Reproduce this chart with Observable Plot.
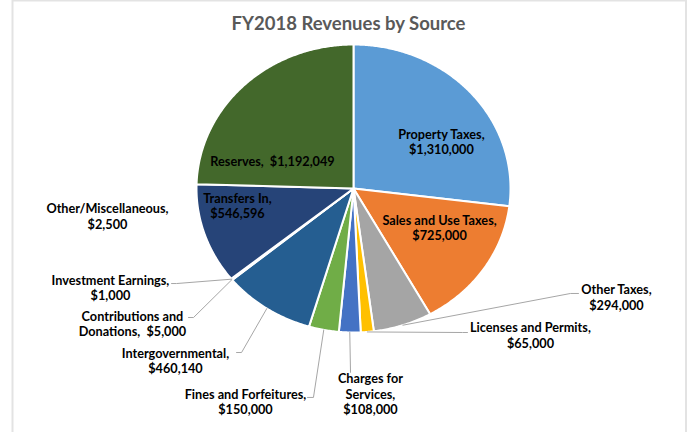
<!DOCTYPE html>
<html>
<head>
<meta charset="utf-8">
<script src="https://cdn.jsdelivr.net/npm/d3@7"></script>
<script src="https://cdn.jsdelivr.net/npm/@observablehq/plot@0.6"></script>
<style>
  html, body { margin: 0; padding: 0; background: #fff; }
  #chart { width: 692px; height: 432px; }
</style>
</head>
<body>
<div id="chart"></div>
<script>
// ---- data ----
const title = "FY2018 Revenues by Source";
const categories = ["Property Taxes", "Sales and Use Taxes", "Other Taxes", "Licenses and Permits",
  "Charges for Services", "Fines and Forfeitures", "Intergovernmental", "Contributions and Donations",
  "Investment Earnings", "Other/Miscellaneous", "Transfers In", "Reserves"];
const values = [1310000, 725000, 294000, 65000, 108000, 150000, 460140, 5000, 1000, 2500, 546596, 1192049];
const colors = ["#5B9BD5", "#ED7D31", "#A5A5A5", "#FFC000", "#4472C4", "#70AD47",
  "#255E91", "#9E480E", "#636363", "#997300", "#264478", "#43682B"];
// label name text as wrapped in the chart, and the separator before the value
const labelNames = ["Property Taxes,", "Sales and Use Taxes,", "Other Taxes,", "Licenses and Permits,",
  "Charges for\nServices,", "Fines and Forfeitures,", "Intergovernmental,", "Contributions and\nDonations,",
  "Investment Earnings,", "Other/Miscellaneous,", "Transfers In,", "Reserves,"];
const labelSeps = ["\n", "\n", "\n", "\n", "\n", "\n", "\n", "  ", "\n", "\n", "\n", "  "];

// ---- layout (pie-radius units) ----
const labelPos = [[0.56, 0.326], [0.548, -0.271], [1.675, -0.753], [1.127, -1.017], [0.108, -1.424],
  [-0.688, -1.479], [-1.134, -1.194], [-1.408, -0.9375], [-1.548, -0.6875], [-1.567, -0.191],
  [-0.739, -0.118], [-0.516, 0.1875]];
// leader lines: [knee, end] for outside labels (null = no leader)
const leaderPts = [null, null,
  [[1.382, -0.729], [1.433, -0.729]],
  [[0.694, -1.0], [0.726, -1.0]],
  [[-0.019, -1.278], [-0.019, -1.278]],
  [[-0.255, -1.451], [-0.293, -1.451]],
  [[-0.713, -1.139], [-0.745, -1.139]],
  [[-1.019, -0.896], [-1.051, -0.896]],
  [[-1.127, -0.660], [-1.159, -0.660]],
  null, null, null];

const fmt = d3.format("$,");
const total = d3.sum(values);
let acc = 0;
const slices = categories.map((c, i) => {
  const a0 = acc / total * 2 * Math.PI;
  acc += values[i];
  const a1 = acc / total * 2 * Math.PI;
  return {c, i, a0, a1, mid: (a0 + a1) / 2};
});

const piePts = slices.flatMap(s => {
  const n = Math.max(2, Math.ceil((s.a1 - s.a0) / (Math.PI / 360)));
  const pts = [{c: s.c, x: 0, y: 0}];
  for (let k = 0; k <= n; k++) {
    const a = s.a0 + (s.a1 - s.a0) * k / n;
    pts.push({c: s.c, x: Math.sin(a), y: Math.cos(a)});
  }
  return pts;
});

const leaders = slices.flatMap(s => {
  const lp = leaderPts[s.i];
  if (!lp) return [];
  return [{c: s.c, x: Math.sin(s.mid), y: Math.cos(s.mid)},
    {c: s.c, x: lp[0][0], y: lp[0][1]},
    {c: s.c, x: lp[1][0], y: lp[1][1]}];
});

const labels = slices.map(s => ({
  x: labelPos[s.i][0], y: labelPos[s.i][1],
  text: labelNames[s.i] + labelSeps[s.i] + fmt(values[s.i])
}));

const chart = Plot.plot({
  width: 692,
  height: 432,
  margin: 0,
  style: {fontFamily: "Lato, 'Open Sans', sans-serif", background: "#fff"},
  x: {domain: [-1, 1], range: [196, 510], axis: null},
  y: {domain: [-1, 1], range: [332, 44], axis: null},
  color: {domain: categories, range: colors},
  marks: [
    Plot.frame({stroke: "#e3e3e3", strokeWidth: 2, insetLeft: 12, insetRight: 6.5, insetTop: 0, insetBottom: -10}),
    Plot.line(piePts, {x: "x", y: "y", z: "c", fill: "c", stroke: "white", strokeWidth: 2, curve: "linear-closed"}),
    Plot.line(leaders, {x: "x", y: "y", z: "c", stroke: "#a6a6a6", strokeWidth: 1}),
    Plot.text(labels, {x: "x", y: "y", text: "text", fontSize: 12.7, fontWeight: "bold", lineHeight: 1.22, fill: "#000"}),
    Plot.text([title], {frameAnchor: "top", dx: 2, dy: 24, lineAnchor: "middle", fontSize: 18.5, fontWeight: "bold", fill: "#595959"})
  ]
});
document.getElementById("chart").appendChild(chart);
</script>
</body>
</html>
